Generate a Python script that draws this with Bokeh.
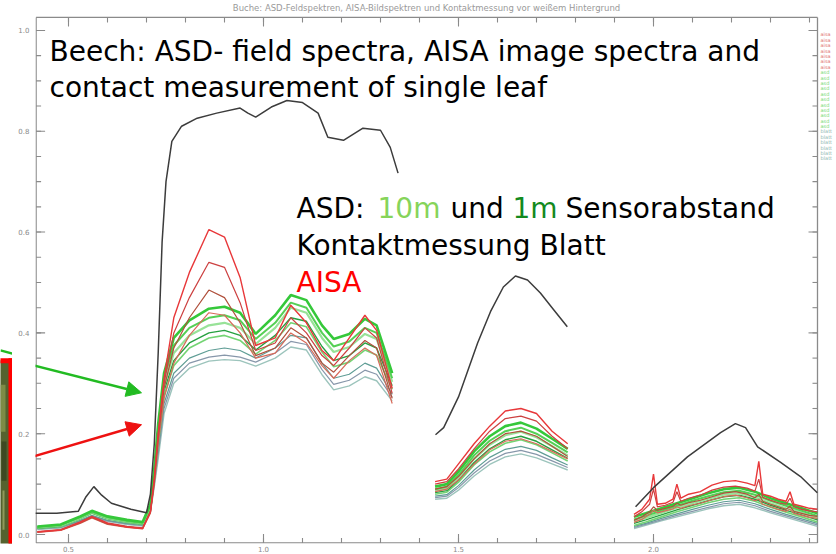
from bokeh.plotting import figure
from bokeh.layouts import row
from bokeh.models import Range1d, FixedTicker, Label, Arrow, NormalHead, PrintfTickFormatter
from bokeh.embed import file_html
from bokeh.resources import INLINE

# ---------------- data (reflectance) ----------------
# contact measurement of a single leaf (black)
BLACK_WL1 = [0.415, 0.47, 0.525, 0.545, 0.565, 0.585, 0.61, 0.66, 0.70, 0.71, 0.72, 0.73, 0.74, 0.75,
             0.765, 0.79, 0.83, 0.88, 0.94, 0.96, 0.98, 1.02, 1.06, 1.10, 1.14, 1.165, 1.205, 1.255,
             1.30, 1.325, 1.345]
BLACK_V1 = [0.042, 0.042, 0.046, 0.075, 0.095, 0.078, 0.062, 0.05, 0.043, 0.08, 0.18, 0.36, 0.58, 0.70,
            0.78, 0.81, 0.826, 0.836, 0.846, 0.836, 0.828, 0.848, 0.861, 0.857, 0.836, 0.788, 0.782, 0.806,
            0.802, 0.768, 0.717]
BLACK_WL2 = [1.441, 1.462, 1.50, 1.549, 1.582, 1.615, 1.646, 1.677, 1.71, 1.744, 1.779]
BLACK_V2 = [0.198, 0.212, 0.273, 0.38, 0.442, 0.491, 0.513, 0.505, 0.479, 0.446, 0.412]
BLACK_WL3 = [1.954, 2.0, 2.087, 2.172, 2.21, 2.236, 2.267, 2.326, 2.377, 2.42]
BLACK_V3 = [0.055, 0.093, 0.154, 0.202, 0.22, 0.212, 0.174, 0.143, 0.115, 0.083]

# common wavelength grids (µm) for the ASD / AISA spectra
WL_VNIR = [0.42, 0.48, 0.53, 0.56, 0.60, 0.65, 0.69, 0.71, 0.72, 0.73, 0.745, 0.77, 0.81, 0.86,
           0.90, 0.94, 0.98, 1.03, 1.07, 1.11, 1.15, 1.18, 1.22, 1.26, 1.29, 1.33]
WL_SWIR1 = [1.44, 1.47, 1.50, 1.54, 1.58, 1.62, 1.66, 1.70, 1.74, 1.78]
WL_SWIR2 = [1.95, 1.98, 2.02, 2.06, 2.10, 2.14, 2.18, 2.22, 2.26, 2.30, 2.34, 2.38, 2.42]
WL_AISA_SWIR2 = [1.95, 1.97, 1.99, 2.00, 2.01, 2.03, 2.05, 2.06, 2.07, 2.09, 2.12, 2.15, 2.18, 2.21,
                 2.24, 2.26, 2.27, 2.28, 2.30, 2.32, 2.34, 2.35, 2.36, 2.38, 2.40, 2.42]

# ASD field spectra (greens) and darker/teal ASD spectra
ASD_A_1 = [0.016, 0.02, 0.036, 0.047, 0.036, 0.029, 0.025, 0.06, 0.13, 0.22, 0.32, 0.39, 0.425, 0.448,
           0.452, 0.44, 0.398, 0.435, 0.475, 0.465, 0.415, 0.388, 0.398, 0.428, 0.415, 0.32]
ASD_A_2 = [0.095, 0.10, 0.125, 0.165, 0.195, 0.215, 0.222, 0.21, 0.19, 0.17]
ASD_A_3 = [0.035, 0.042, 0.052, 0.062, 0.072, 0.082, 0.09, 0.093, 0.085, 0.072, 0.062, 0.052, 0.042]

ASD_B_1 = [0.015, 0.019, 0.034, 0.045, 0.034, 0.027, 0.023, 0.058, 0.125, 0.21, 0.31, 0.375, 0.41, 0.43,
           0.435, 0.425, 0.388, 0.42, 0.46, 0.45, 0.40, 0.373, 0.383, 0.41, 0.40, 0.31]
ASD_B_2 = [0.09, 0.095, 0.118, 0.157, 0.186, 0.205, 0.212, 0.20, 0.182, 0.163]
ASD_B_3 = [0.03, 0.037, 0.047, 0.057, 0.067, 0.076, 0.084, 0.087, 0.079, 0.067, 0.057, 0.047, 0.037]

ASD_C_1 = [0.014, 0.018, 0.033, 0.044, 0.033, 0.026, 0.022, 0.055, 0.12, 0.20, 0.295, 0.36, 0.395, 0.415,
           0.42, 0.41, 0.378, 0.41, 0.45, 0.44, 0.39, 0.362, 0.372, 0.398, 0.388, 0.303]
ASD_C_2 = [0.087, 0.091, 0.113, 0.15, 0.178, 0.197, 0.204, 0.193, 0.175, 0.157]
ASD_C_3 = [0.026, 0.033, 0.043, 0.053, 0.062, 0.071, 0.079, 0.082, 0.074, 0.062, 0.052, 0.043, 0.033]

ASD_D_1 = [0.013, 0.017, 0.032, 0.043, 0.032, 0.025, 0.021, 0.052, 0.115, 0.19, 0.285, 0.345, 0.38, 0.40,
           0.405, 0.395, 0.366, 0.395, 0.43, 0.423, 0.373, 0.345, 0.355, 0.38, 0.37, 0.295]
ASD_D_2 = [0.083, 0.087, 0.108, 0.143, 0.17, 0.188, 0.195, 0.185, 0.168, 0.151]
ASD_D_3 = [0.022, 0.029, 0.039, 0.049, 0.058, 0.067, 0.075, 0.078, 0.07, 0.058, 0.048, 0.039, 0.029]

ASD_E_1 = [0.012, 0.016, 0.031, 0.042, 0.031, 0.024, 0.020, 0.05, 0.11, 0.18, 0.275, 0.335, 0.37, 0.39,
           0.395, 0.385, 0.358, 0.385, 0.42, 0.412, 0.362, 0.333, 0.342, 0.366, 0.356, 0.288]
ASD_E_2 = [0.08, 0.084, 0.104, 0.138, 0.164, 0.181, 0.188, 0.178, 0.162, 0.146]
ASD_E_3 = [0.018, 0.025, 0.035, 0.045, 0.054, 0.063, 0.07, 0.073, 0.066, 0.054, 0.044, 0.035, 0.025]

ASD_T1_1 = [0.012, 0.015, 0.028, 0.038, 0.028, 0.022, 0.019, 0.048, 0.105, 0.17, 0.26, 0.32, 0.35, 0.365,
            0.37, 0.365, 0.35, 0.37, 0.395, 0.39, 0.34, 0.31, 0.318, 0.34, 0.33, 0.278]
ASD_T1_2 = [0.076, 0.079, 0.097, 0.128, 0.153, 0.169, 0.175, 0.167, 0.152, 0.138]
ASD_T1_3 = [0.016, 0.022, 0.032, 0.041, 0.05, 0.058, 0.065, 0.068, 0.061, 0.05, 0.04, 0.031, 0.022]

ASD_T2_1 = [0.011, 0.014, 0.027, 0.036, 0.027, 0.021, 0.018, 0.046, 0.10, 0.16, 0.25, 0.31, 0.34, 0.352,
            0.356, 0.352, 0.342, 0.36, 0.383, 0.377, 0.327, 0.298, 0.306, 0.326, 0.318, 0.272]
ASD_T2_2 = [0.073, 0.076, 0.093, 0.122, 0.146, 0.161, 0.167, 0.159, 0.146, 0.133]
ASD_T2_3 = [0.014, 0.02, 0.029, 0.038, 0.046, 0.054, 0.061, 0.064, 0.057, 0.046, 0.037, 0.028, 0.019]

ASD_T3_1 = [0.010, 0.013, 0.026, 0.035, 0.026, 0.020, 0.017, 0.044, 0.095, 0.15, 0.24, 0.30, 0.33, 0.344,
            0.347, 0.345, 0.334, 0.35, 0.372, 0.366, 0.317, 0.287, 0.295, 0.313, 0.305, 0.265]
ASD_T3_2 = [0.07, 0.072, 0.088, 0.116, 0.139, 0.154, 0.16, 0.152, 0.14, 0.128]
ASD_T3_3 = [0.012, 0.018, 0.027, 0.035, 0.043, 0.051, 0.057, 0.06, 0.053, 0.043, 0.034, 0.025, 0.016]

# AISA image spectra (reds)
AISA_1_1 = [0.005, 0.009, 0.024, 0.035, 0.022, 0.015, 0.012, 0.045, 0.11, 0.20, 0.31, 0.43, 0.52, 0.605,
            0.59, 0.51, 0.375, 0.39, 0.455, 0.42, 0.365, 0.345, 0.39, 0.435, 0.405, 0.29]
AISA_1_2 = [0.105, 0.11, 0.14, 0.18, 0.215, 0.245, 0.25, 0.24, 0.205, 0.18]
AISA_1_3 = [0.04, 0.05, 0.07, 0.12, 0.06, 0.062, 0.07, 0.10, 0.072, 0.08, 0.085, 0.098, 0.105, 0.107,
            0.102, 0.097, 0.145, 0.08, 0.076, 0.07, 0.066, 0.085, 0.06, 0.056, 0.052, 0.05]

AISA_2_1 = [0.006, 0.010, 0.025, 0.036, 0.023, 0.016, 0.013, 0.046, 0.11, 0.20, 0.30, 0.40, 0.47, 0.54,
            0.53, 0.46, 0.365, 0.38, 0.43, 0.40, 0.355, 0.335, 0.37, 0.41, 0.39, 0.28]
AISA_2_2 = [0.10, 0.105, 0.13, 0.17, 0.205, 0.23, 0.235, 0.225, 0.195, 0.17]
AISA_2_3 = [0.035, 0.045, 0.06, 0.09, 0.055, 0.058, 0.064, 0.085, 0.066, 0.072, 0.078, 0.088, 0.094, 0.096,
            0.092, 0.086, 0.11, 0.074, 0.068, 0.063, 0.06, 0.072, 0.055, 0.05, 0.047, 0.045]

AISA_3_1 = [0.005, 0.009, 0.023, 0.034, 0.021, 0.015, 0.012, 0.044, 0.105, 0.19, 0.29, 0.37, 0.43, 0.485,
            0.47, 0.42, 0.355, 0.37, 0.41, 0.39, 0.34, 0.322, 0.355, 0.385, 0.37, 0.27]
AISA_3_2 = [0.09, 0.095, 0.115, 0.15, 0.18, 0.20, 0.205, 0.195, 0.175, 0.155]
AISA_3_3 = [0.028, 0.035, 0.045, 0.055, 0.048, 0.052, 0.056, 0.062, 0.058, 0.063, 0.068, 0.075, 0.082, 0.085,
            0.08, 0.073, 0.08, 0.066, 0.06, 0.055, 0.05, 0.056, 0.046, 0.042, 0.038, 0.036]

AISA_4_1 = [0.004, 0.008, 0.022, 0.033, 0.020, 0.014, 0.011, 0.042, 0.10, 0.18, 0.27, 0.34, 0.395, 0.44,
            0.435, 0.40, 0.35, 0.36, 0.40, 0.38, 0.335, 0.31, 0.345, 0.37, 0.355, 0.26]
AISA_4_2 = [0.085, 0.09, 0.108, 0.14, 0.168, 0.185, 0.19, 0.18, 0.165, 0.15]
AISA_4_3 = [0.024, 0.03, 0.04, 0.048, 0.043, 0.047, 0.051, 0.055, 0.052, 0.057, 0.062, 0.069, 0.075, 0.078,
            0.073, 0.067, 0.07, 0.06, 0.055, 0.05, 0.046, 0.05, 0.042, 0.038, 0.034, 0.032]

X_TICKS = [0.5, 1.0, 1.5, 2.0]
X_MINOR = [0.5, 0.6, 0.7, 0.8, 0.9, 1.0, 1.1, 1.2, 1.3, 1.4, 1.5, 1.6, 1.7, 1.8, 1.9, 2.0, 2.1, 2.2, 2.3, 2.4]
Y_TICKS = [0.0, 0.2, 0.4, 0.6, 0.8, 1.0]
Y_MINOR = [0.0, 0.05, 0.1, 0.15, 0.2, 0.25, 0.3, 0.35, 0.4, 0.45, 0.5, 0.55, 0.6, 0.65, 0.7, 0.75,
           0.8, 0.85, 0.9, 0.95, 1.0]
TITLE = "Buche: ASD-Feldspektren, AISA-Bildspektren und Kontaktmessung vor weißem Hintergrund"
LEGEND_NAMES = ["aisa"] * 7 + ["asd"] * 11 + ["blatt"] * 6
LEGEND_COLORS = ["#e07070"] * 7 + ["#6fd86f"] * 11 + ["#8fb8b0"] * 6

# ---------------- helpers ----------------
LEAF_W = 12                                  # width of the strip with the leaf photo
BOX_L, BOX_R, BOX_T, BOX_B = 35, 817, 17, 544  # ENVI plot box, page pixels

def px_x(px):
    return 0.5 + (px - 68) / 390.0

def px_y(py):
    return (535 - py) / 505.0

NAN = float("nan")

def joined(g1, v1, g2, v2, g3, v3):
    xs = list(g1) + [NAN] + list(g2) + [NAN] + list(g3)
    ys = list(v1) + [NAN] + list(v2) + [NAN] + list(v3)
    return xs, ys

# ---------------- left strip: leaf photo with a red frame ----------------
leaf = figure(width=LEAF_W, height=554, output_backend="svg", toolbar_location=None,
              x_axis_location=None, y_axis_location=None,
              x_range=Range1d(0, LEAF_W), y_range=Range1d(554, 0),
              min_border_left=0, min_border_right=0, min_border_top=0, min_border_bottom=0,
              background_fill_color="white", border_fill_color="white")
leaf.grid.visible = False
leaf.outline_line_color = None
leaf.quad(left=[-2], right=[LEAF_W], top=[367], bottom=[556], fill_color="#55622f", line_color=None)
leaf.quad(left=[0, 1, 2], right=[5, 6, 4], top=[392, 450, 500], bottom=[440, 490, 540],
          fill_color=["#7d8b46", "#3e4922", "#8f9a5a"], line_color=None)
leaf.quad(left=[8, -2], right=[LEAF_W, LEAF_W], top=[365, 365], bottom=[556, 370],
          fill_color="#ff0000", line_color=None)
leaf.segment(x0=[0], y0=[357.0], x1=[LEAF_W], y1=[360.3], line_color="#22bb22", line_width=2.5)

# ---------------- main plot ----------------
p = figure(width=836 - LEAF_W, height=554, output_backend="svg", toolbar_location=None,
           x_range=Range1d(px_x(BOX_L), px_x(836)), y_range=Range1d(px_y(BOX_B), px_y(0)),
           min_border_left=BOX_L - LEAF_W, min_border_right=0, min_border_top=0,
           min_border_bottom=554 - BOX_B,
           background_fill_color="white", border_fill_color="white")
p.xgrid.visible = False
p.ygrid.visible = False
p.outline_line_color = None

for ax, ticks in ((p.xaxis[0], X_TICKS), (p.yaxis[0], Y_TICKS)):
    ax.ticker = FixedTicker(ticks=ticks)
    ax.axis_line_color = None
    ax.major_tick_line_color = None
    ax.minor_tick_line_color = None
    ax.major_tick_in = 0
    ax.major_tick_out = 0
    ax.major_label_text_font = "DejaVu Sans"
    ax.major_label_text_font_size = "7px"
    ax.major_label_text_color = "#8a8a8a"
    ax.formatter = PrintfTickFormatter(format="%.1f")
p.xaxis[0].major_label_standoff = 2
p.yaxis[0].major_label_standoff = 6

# plot box and inward tick marks, placed with the plot's own scales
AX = "#8a8a8a"
xl, xr = px_x(BOX_L + 0.6), px_x(BOX_R)
yb, yt = px_y(BOX_B - 0.6), px_y(BOX_T)
p.segment(x0=[xl, xr, xl, xl], y0=[yb, yb, yb, yt], x1=[xl, xr, xr, xr], y1=[yt, yt, yb, yt],
          line_color=AX, line_width=1.3)
dxM, dxm = 9 / 390.0, 5 / 390.0
dyM, dym = 9 / 505.0, 5 / 505.0
for ticks, d_y in ((X_MINOR, dym), (X_TICKS, dyM)):
    n = len(ticks)
    p.segment(x0=ticks, y0=[yb] * n, x1=ticks, y1=[yb + d_y] * n, line_color=AX, line_width=1.1)
    p.segment(x0=ticks, y0=[yt] * n, x1=ticks, y1=[yt - d_y] * n, line_color=AX, line_width=1.1)
for ticks, d_x in ((Y_MINOR, dxm), (Y_TICKS, dxM)):
    n = len(ticks)
    p.segment(x0=[xl] * n, y0=ticks, x1=[xl + d_x] * n, y1=ticks, line_color=AX, line_width=1.1)
    p.segment(x0=[xr] * n, y0=ticks, x1=[xr - d_x] * n, y1=ticks, line_color=AX, line_width=1.1)

# ---------------- spectra ----------------
teal = [(ASD_T3_1, ASD_T3_2, ASD_T3_3, "#9cc4bc", 1.4),
        (ASD_T2_1, ASD_T2_2, ASD_T2_3, "#8797aa", 1.2),
        (ASD_T1_1, ASD_T1_2, ASD_T1_3, "#5f9d95", 1.2)]
greens = [(ASD_E_1, ASD_E_2, ASD_E_3, "#74d474", 1.6),
          (ASD_D_1, ASD_D_2, ASD_D_3, "#27a040", 1.4),
          (ASD_C_1, ASD_C_2, ASD_C_3, "#98e298", 2.2),
          (ASD_B_1, ASD_B_2, ASD_B_3, "#55d055", 2.0),
          (ASD_A_1, ASD_A_2, ASD_A_3, "#35c83a", 2.6)]
reds = [(AISA_4_1, AISA_4_2, AISA_4_3, "#d86a5a", 1.2),
        (AISA_3_1, AISA_3_2, AISA_3_3, "#b0503c", 1.2),
        (AISA_2_1, AISA_2_2, AISA_2_3, "#cc4040", 1.2),
        (AISA_1_1, AISA_1_2, AISA_1_3, "#e8383a", 1.4)]

for v1, v2, v3, c, w in teal + greens:
    xs, ys = joined(WL_VNIR, v1, WL_SWIR1, v2, WL_SWIR2, v3)
    p.line(xs, ys, line_color=c, line_width=w)
for v1, v2, v3, c, w in reds:
    xs, ys = joined(WL_VNIR, v1, WL_SWIR1, v2, WL_AISA_SWIR2, v3)
    p.line(xs, ys, line_color=c, line_width=w)
xs, ys = joined(BLACK_WL1, BLACK_V1, BLACK_WL2, BLACK_V2, BLACK_WL3, BLACK_V3)
p.line(xs, ys, line_color="#3c3c3c", line_width=1.5)

# ---------------- texts ----------------
def lab(px, py, text, color="black", size="28px", align="left", font="DejaVu Sans"):
    p.add_layout(Label(x=px_x(px), y=px_y(py), text=text, text_color=color,
                       text_font=font, text_font_size=size,
                       text_baseline="alphabetic", text_align=align))

lab(426, 8, TITLE, "#9a9a9a", "8.5px", "center")
lab(49, 51, "Beech: ASD- field spectra, AISA image spectra and")
lab(49, 87, "contact measurement of single leaf")
lab(296, 208, "ASD:")
lab(377, 208, "10m", "#86d45a")
lab(450, 208, "und")
lab(512, 208, "1m", "#138a1e")
lab(565, 208, "Sensorabstand")
lab(296, 245, "Kontaktmessung Blatt")
lab(296, 283, "AISA", "#ff0000")

# small legend strip at the right edge
for i, (t, c) in enumerate(zip(LEGEND_NAMES, LEGEND_COLORS)):
    p.add_layout(Label(x=px_x(820), y=px_y(34 + i * 5.4), text=t, text_color=c,
                       text_font="DejaVu Sans", text_font_size="5px",
                       text_baseline="middle", text_align="left"))

# ---------------- arrows ----------------
p.add_layout(Arrow(x_start=px_x(LEAF_W), y_start=px_y(360.3), x_end=px_x(141), y_end=px_y(393),
                   line_color="#22bb22", line_width=2.5,
                   end=NormalHead(size=15, fill_color="#22bb22", line_color="#22bb22")))
p.add_layout(Arrow(x_start=px_x(LEAF_W), y_start=px_y(463), x_end=px_x(141), y_end=px_y(425),
                   line_color="#ee1111", line_width=2.5,
                   end=NormalHead(size=15, fill_color="#ee1111", line_color="#ee1111")))

layout = row(leaf, p, spacing=0)
open("out.html", "w").write(file_html(layout, INLINE))
